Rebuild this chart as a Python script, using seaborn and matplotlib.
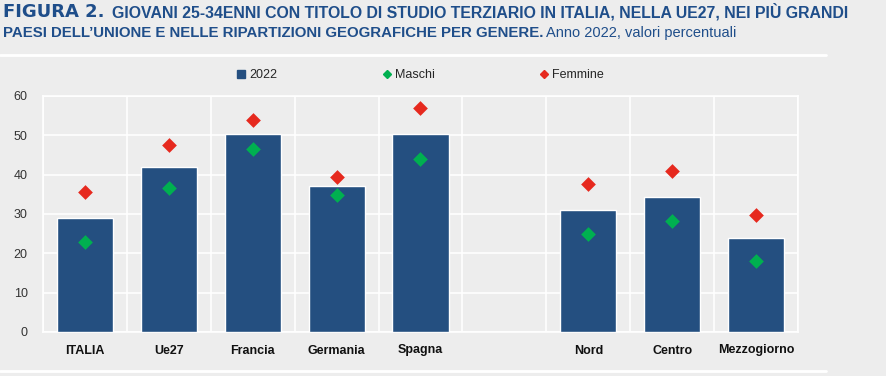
import matplotlib
matplotlib.use("Agg")
import matplotlib.pyplot as plt
from matplotlib.lines import Line2D
import seaborn as sns
import pandas as pd
import numpy as np

categories = ["ITALIA", "Ue27", "Francia", "Germania", "Spagna", "", "Nord", "Centro", "Mezzogiorno"]
total_2022 = [29.0, 42.0, 50.4, 37.2, 50.4, np.nan, 31.1, 34.4, 23.9]
maschi = [22.9, 36.5, 46.5, 34.9, 44.0, np.nan, 24.8, 28.3, 18.1]
femmine = [35.5, 47.6, 53.9, 39.4, 57.0, np.nan, 37.7, 41.0, 29.8]
y_ticks = [0, 10, 20, 30, 40, 50, 60]

BG = "#EDEDED"
BAR = "#244F80"
GREEN = "#00B050"
RED = "#E6291E"
TITLE = "#1F4E8A"

df = pd.DataFrame({"cat": categories, "tot": total_2022, "m": maschi, "f": femmine})

sns.set_theme(style="white")
plt.rcParams["font.family"] = ["Liberation Sans Narrow", "Liberation Sans", "DejaVu Sans"]

fig = plt.figure(figsize=(8.87, 3.76), dpi=100, facecolor=BG)
ax = fig.add_axes([43 / 887, 44 / 376, (798 - 43) / 887, (332 - 96) / 376])
ax.set_facecolor(BG)

sns.barplot(data=df, x="cat", y="tot", order=categories, color=BAR, saturation=1,
            width=0.67, ax=ax, errorbar=None, zorder=3)
sns.stripplot(data=df, x="cat", y="m", order=categories, color=GREEN, marker="D",
              size=7.5, jitter=False, ax=ax, zorder=4, linewidth=0)
sns.stripplot(data=df, x="cat", y="f", order=categories, color=RED, marker="D",
              size=7.5, jitter=False, ax=ax, zorder=4, linewidth=0)

ax.set_xlim(-0.5, len(categories) - 0.5)
ax.set_ylim(0, 60)
ax.set_yticks(y_ticks)
ax.set_xlabel("")
ax.set_ylabel("")

# gridlines
for yv in y_ticks:
    ax.axhline(yv, color="white", lw=1.2, zorder=1)
for xv in np.arange(-0.5, len(categories), 1.0):
    ax.axvline(xv, color="white", lw=1.2, zorder=1)
for s in ax.spines.values():
    s.set_color("white")
    s.set_linewidth(1.2)

ax.set_xticks(np.arange(-0.5, len(categories), 1.0), minor=True)
ax.tick_params(axis="x", which="major", length=0, pad=9, labelsize=9, labelcolor="#111111")
ax.tick_params(axis="x", which="minor", length=4, color="white", width=1.2)
ax.tick_params(axis="y", length=4, color="white", width=1.2, pad=7, labelsize=9, labelcolor="#333333")
for lab in ax.get_xticklabels():
    lab.set_fontweight("bold")

handles = [
    Line2D([], [], marker="s", color=BAR, ls="none", markersize=6),
    Line2D([], [], marker="D", color=GREEN, ls="none", markersize=4.5),
    Line2D([], [], marker="D", color=RED, ls="none", markersize=4.5),
]
leg = ax.legend(handles, ["2022", "Maschi", "Femmine"], ncol=3, loc="center",
                bbox_to_anchor=(0.5, 1.089), frameon=False, fontsize=9,
                handlelength=0.7, handletextpad=0.3, columnspacing=8.4)

# Title
fig.canvas.draw()
r = fig.canvas.get_renderer()
t1 = fig.text(3 / 887, 1 - 17 / 376, "FIGURA 2.", fontsize=13, fontweight="bold",
              color=TITLE, family=["DejaVu Sans"], va="baseline", ha="left")
bb = t1.get_window_extent(renderer=r)
x2 = (bb.x1 + 8) / fig.bbox.width
fig.text(x2, 1 - 17 / 376,
         "GIOVANI 25-34ENNI CON TITOLO DI STUDIO TERZIARIO IN ITALIA, NELLA UE27, NEI PIÙ GRANDI",
         fontsize=11.4, fontweight="bold", color=TITLE, va="baseline", ha="left")
t3 = fig.text(3 / 887, 1 - 37 / 376,
              "PAESI DELL’UNIONE E NELLE RIPARTIZIONI GEOGRAFICHE PER GENERE.",
              fontsize=10.85, fontweight="bold", color=TITLE, va="baseline", ha="left")
bb3 = t3.get_window_extent(renderer=r)
fig.text((bb3.x1 + 3) / fig.bbox.width, 1 - 37 / 376, "Anno 2022, valori percentuali",
         fontsize=10.5, color=TITLE, va="baseline", ha="left")

# separators
fig.add_artist(Line2D([0, 826 / 887], [1 - 55 / 376, 1 - 55 / 376], color="white", lw=2,
                      transform=fig.transFigure))
fig.add_artist(Line2D([0, 826 / 887], [1 - 371 / 376, 1 - 371 / 376], color="white", lw=2,
                      transform=fig.transFigure))

fig.savefig("out.png", dpi=100, facecolor=BG)
